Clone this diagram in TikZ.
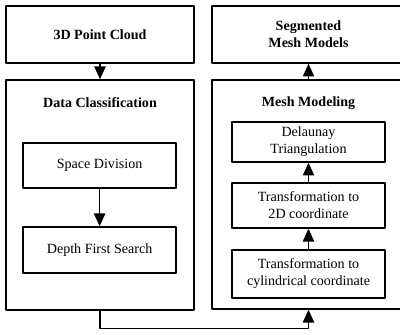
\documentclass[tikz,border=0pt]{standalone}
\usepackage{fontspec}
\setmainfont{Liberation Serif}
\usetikzlibrary{arrows.meta}
\begin{document}
\begin{tikzpicture}[line join=round,>={Triangle[length=3.2mm,width=2.8mm]},
	box/.style={draw,line width=1pt,align=center,inner sep=0pt,minimum width=3.825cm},
	bigbox/.style={draw,line width=1pt,align=center,inner sep=0pt,font=\bfseries},
	arr/.style={->,line width=1.1pt}]
	\useasboundingbox (0,0) rectangle (10,8.35);
	% left column
	\node[bigbox,minimum width=4.7cm,minimum height=1.425cm] (pc) at (2.5,7.4875) {3D Point Cloud};
	\node[bigbox,minimum width=4.7cm,minimum height=5.75cm] (dc) at (2.5,3.475) {};
	\node[font=\bfseries] (dct) at (2.5,5.775) {Data Classification};
	\node[box,minimum height=1.125cm] (sd) at (2.49,4.2125) {Space Division};
	\node[box,minimum height=1.15cm] (dfs) at (2.49,2.1) {Depth First Search};
	% right column
	\node[bigbox,minimum width=4.825cm,minimum height=1.425cm] (smm) at (7.7125,7.4875) {Segmented\\Mesh Models};
	\node[bigbox,minimum width=4.825cm,minimum height=5.725cm] (mm) at (7.7125,3.4875) {};
	\node[font=\bfseries] (mmt) at (7.7125,5.775) {Mesh Modeling};
	\node[box,minimum height=1cm] (dt) at (7.7125,4.8) {Delaunay\\Triangulation};
	\node[box,minimum height=1.125cm] (t2d) at (7.7125,3.2125) {Transformation to\\2D coordinate};
	\node[box,minimum height=1.2cm] (tcc) at (7.7125,1.5) {Transformation to\\cylindrical coordinate};
	% arrows
	\draw[arr] (pc)--(dc);
	\draw[arr] (sd)--(dfs);
	\draw[arr] (dc.south)--++(0,-0.45)-|(mm.south);
	\draw[arr] (tcc)--(t2d);
	\draw[arr] (t2d)--(dt);
	\draw[arr] (mm)--(smm);
\end{tikzpicture}
\end{document}
